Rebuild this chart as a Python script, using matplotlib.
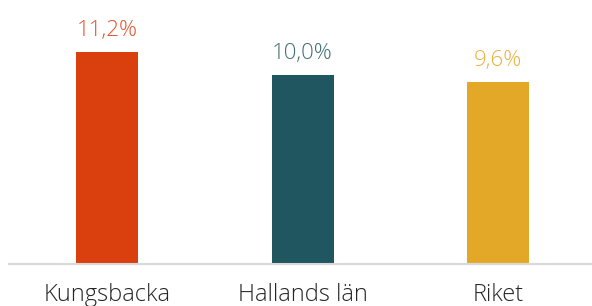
import matplotlib
matplotlib.use("Agg")
import matplotlib.pyplot as plt

categories = ["Kungsbacka", "Hallands län", "Riket"]
values = [11.2, 10.0, 9.6]
value_labels = ["11,2%", "10,0%", "9,6%"]
bar_colors = ["#D9400E", "#20565F", "#E3A828"]
label_colors = ["#E0552B", "#3F6C74", "#E9B03E"]

fig = plt.figure(figsize=(5.92, 3.06), dpi=100)
ax = fig.add_axes([9/592, (306-264)/306, 1 - 9/592, 264/306])
x = list(range(len(categories)))
ax.bar(x, values, width=0.317, color=bar_colors, edgecolor="none", zorder=2)
ax.set_xlim(-0.502, 2.48)
ax.set_ylim(0, 264/18.95)
for xi, v, t, c in zip(x, values, value_labels, label_colors):
    ax.annotate(t, (xi, v), xytext=(0, 16), textcoords="offset pixels",
                ha="center", va="baseline", fontsize=16, color=c,
                family="Open Sans", fontweight="light")
for s in ["top", "right", "left"]:
    ax.spines[s].set_visible(False)
ax.spines["bottom"].set_color("#d9d9d9")
ax.spines["bottom"].set_linewidth(1.5)
ax.set_yticks([])
ax.set_xticks(x)
ax.set_xticklabels(categories, fontsize=17, color="#262626", family="Open Sans", fontweight="light")
ax.tick_params(axis="x", length=0, pad=13.5)
fig.savefig("out.png", dpi=100)
